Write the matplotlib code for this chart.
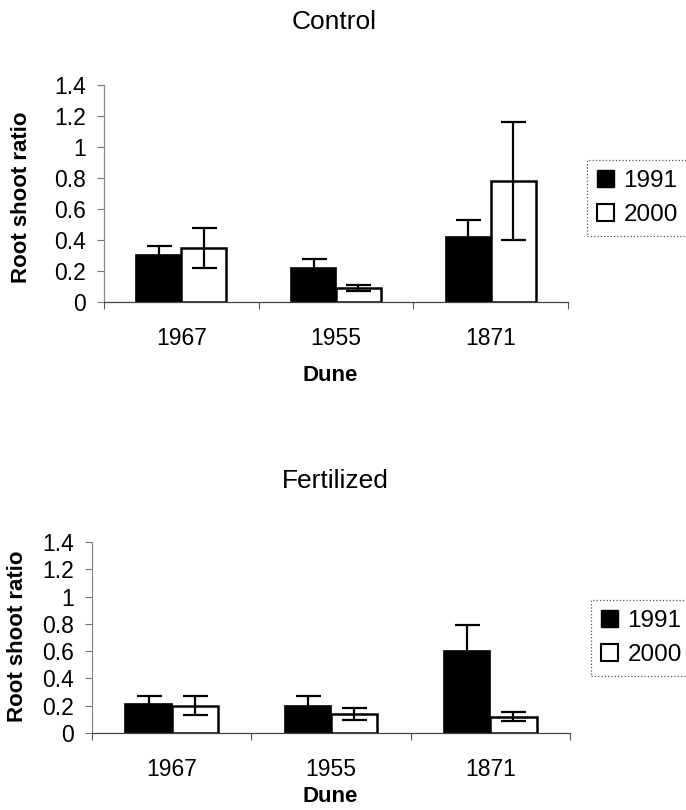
import matplotlib.pyplot as plt
from matplotlib.patches import Patch
import numpy as np

plt.rcParams['font.family'] = ['Liberation Sans', 'DejaVu Sans']

dunes = ['1967', '1955', '1871']
years = ['1991', '2000']

# Control
ctrl_1991 = [0.30, 0.22, 0.42]
ctrl_1991_err = [0.06, 0.06, 0.11]
ctrl_2000 = [0.35, 0.09, 0.78]
ctrl_2000_err = [0.13, 0.02, 0.38]

# Fertilized
fert_1991 = [0.21, 0.20, 0.60]
fert_1991_err = [0.06, 0.07, 0.19]
fert_2000 = [0.20, 0.14, 0.12]
fert_2000_err = [0.07, 0.045, 0.035]

W, H = 686, 810


def panel(rect, v1, e1, v2, e2):
    ax = fig.add_axes(rect)
    x = np.arange(len(dunes))
    w = 0.29
    ax.bar(x - w / 2, v1, w, color='k', edgecolor='k', lw=1.2, zorder=2)
    ax.bar(x + w / 2, v2, w, color='w', edgecolor='k', lw=1.8, zorder=2)
    ax.errorbar(x - w / 2, v1, yerr=e1, fmt='none', ecolor='k',
                elinewidth=1.6, capsize=9, capthick=1.6, zorder=3)
    ax.errorbar(x + w / 2, v2, yerr=e2, fmt='none', ecolor='k',
                elinewidth=1.6, capsize=9, capthick=1.6, zorder=3)
    ax.set_xlim(-0.5, len(dunes) - 0.5)
    ax.set_ylim(0, 1.4)
    ax.set_yticks(np.arange(0, 1.41, 0.2))
    ax.set_yticklabels(['0', '0.2', '0.4', '0.6', '0.8', '1', '1.2', '1.4'])
    ax.set_xticks(x)
    ax.set_xticklabels(dunes)
    ax.set_xticks(np.arange(-0.5, len(dunes)), minor=True)
    ax.tick_params(axis='x', which='major', length=0, pad=18, labelsize=16.5)
    ax.tick_params(axis='x', which='minor', length=5, color='#555555', width=0.8)
    ax.tick_params(axis='y', length=5, pad=8, labelsize=16.5, color='#777777', width=0.8)
    for s in ['top', 'right']:
        ax.spines[s].set_visible(False)
    ax.spines['left'].set_color('#888888')
    ax.spines['left'].set_linewidth(0.9)
    ax.spines['bottom'].set_color('#444444')
    ax.spines['bottom'].set_linewidth(0.9)
    return ax


fig = plt.figure(figsize=(W / 100, H / 100), dpi=100)

ax1 = panel([104 / W, 508 / H, 464 / W, 217 / H],
            ctrl_1991, ctrl_1991_err, ctrl_2000, ctrl_2000_err)
ax2 = panel([92 / W, 77 / H, 478 / W, 191 / H],
            fert_1991, fert_1991_err, fert_2000, fert_2000_err)

fig.text(334 / W, 1 - 22 / H, 'Control', ha='center', va='center', fontsize=19)
fig.text(335 / W, 1 - 481 / H, 'Fertilized', ha='center', va='center', fontsize=19)
fig.text(330 / W, 1 - 375 / H, 'Dune', ha='center', va='center', fontsize=16, fontweight='bold')
fig.text(330 / W, 1 - 797 / H, 'Dune', ha='center', va='center', fontsize=16, fontweight='bold')
fig.text(22 / W, 1 - 197 / H, 'Root shoot ratio', ha='center', va='center',
         rotation=90, fontsize=16, fontweight='bold')
fig.text(18 / W, 1 - 636 / H, 'Root shoot ratio', ha='center', va='center',
         rotation=90, fontsize=16, fontweight='bold')

handles = [Patch(facecolor='k', edgecolor='k'),
           Patch(facecolor='w', edgecolor='k', lw=1.5)]
for anchor in [(587 / W, 1 - 160 / H), (591 / W, 1 - 600 / H)]:
    leg = fig.legend(handles, years, loc='upper left', bbox_to_anchor=anchor,
                     borderaxespad=0, fontsize=17.5, handlelength=0.7, handleheight=0.7,
                     handletextpad=0.4, labelspacing=0.5, borderpad=0.4,
                     fancybox=False, framealpha=1)
    leg.get_frame().set_linestyle(':')
    leg.get_frame().set_edgecolor('#555555')
    leg.get_frame().set_linewidth(0.9)

fig.savefig('out.png', dpi=100)
